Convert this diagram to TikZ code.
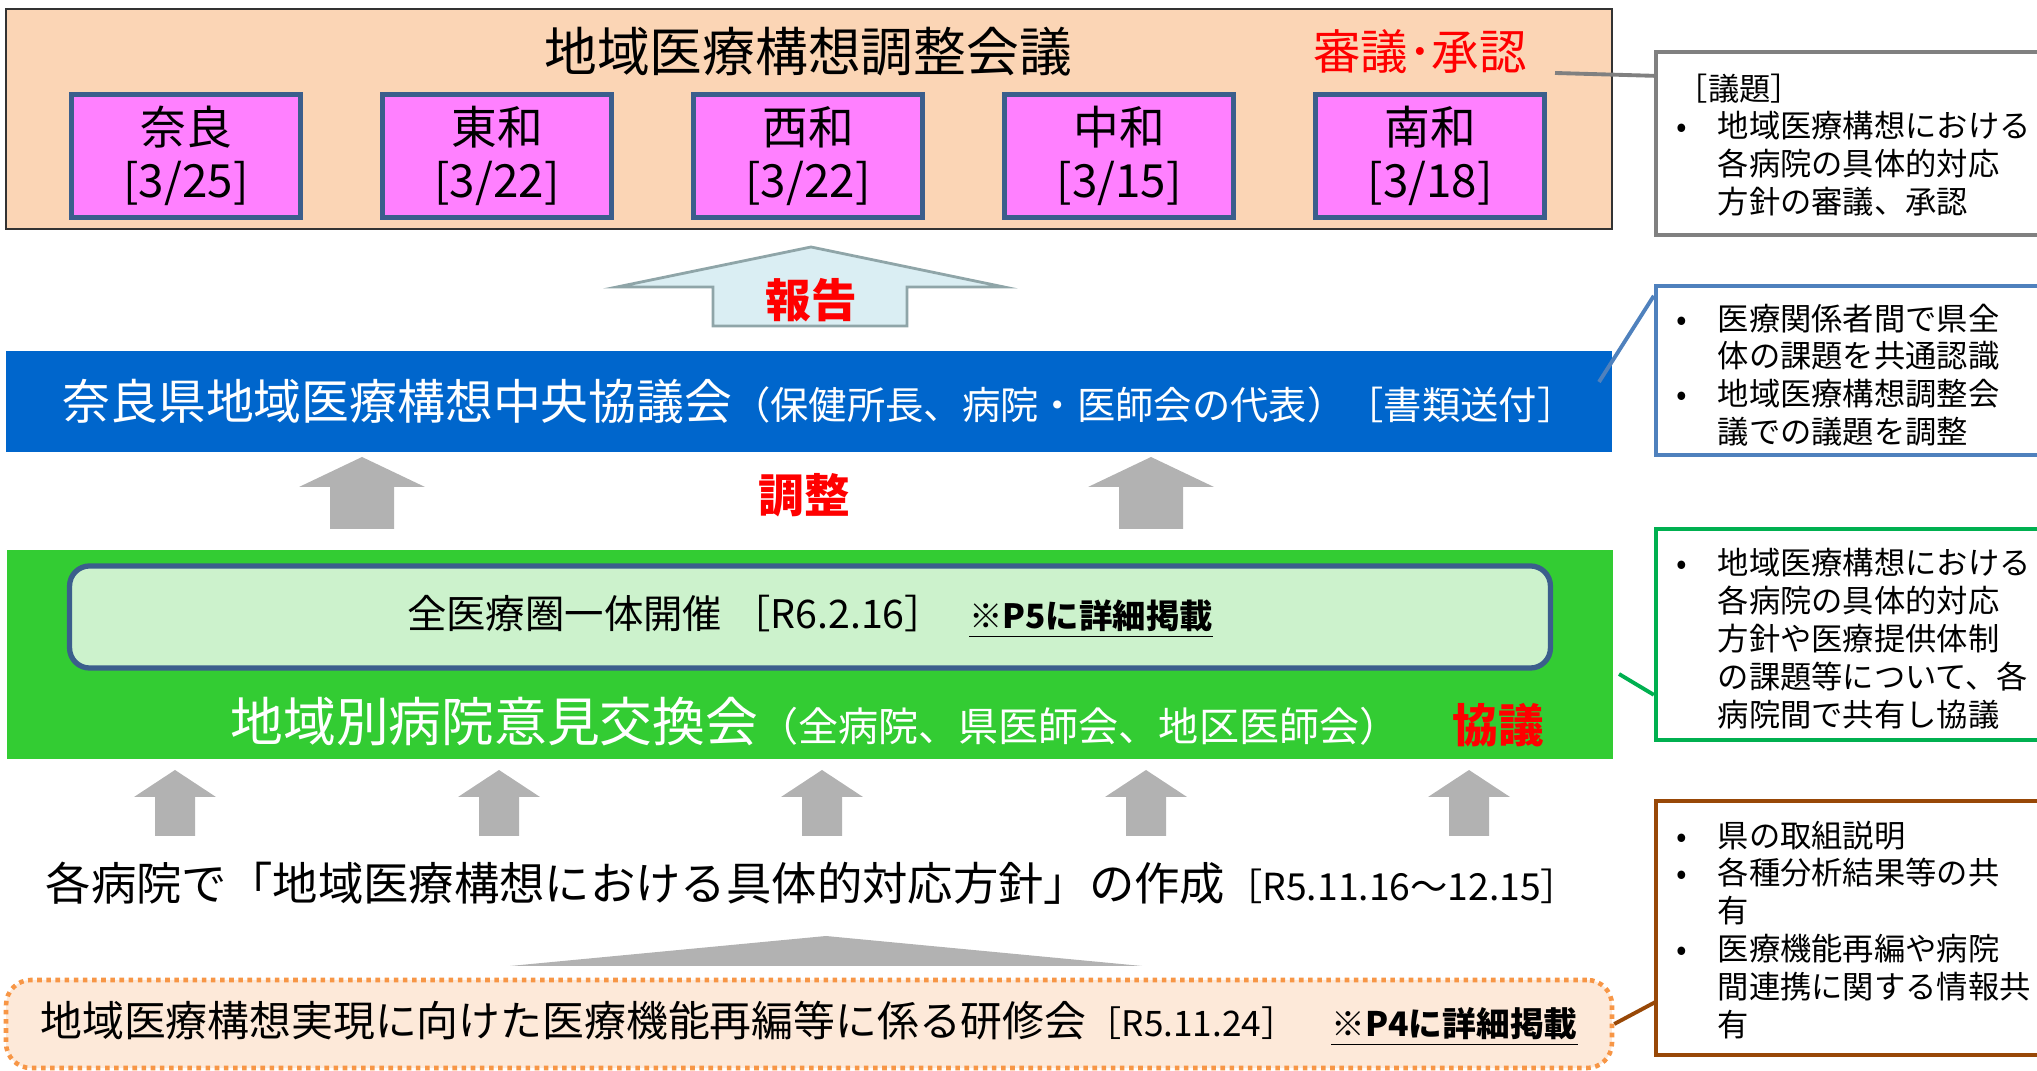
\documentclass[tikz,border=0pt]{standalone}
\usepackage{fontspec}
\setmainfont{Noto Sans CJK JP}
\usepackage{tikz}
\usetikzlibrary{shapes,calc,positioning}

\definecolor{peach}{HTML}{FBD5B5}
\definecolor{pinkfill}{HTML}{FF80FF}
\definecolor{frameblue}{HTML}{3B5E8C}
\definecolor{barblue}{HTML}{0066CC}
\definecolor{areagreen}{HTML}{33CC33}
\definecolor{palegreen}{HTML}{CCF2CC}
\definecolor{arrowgray}{HTML}{B2B2B2}
\definecolor{reportfill}{HTML}{DAEEF3}
\definecolor{reportline}{HTML}{8FA5A8}
\definecolor{notegray}{HTML}{808080}
\definecolor{noteblue}{HTML}{4F81BD}
\definecolor{notegreen}{HTML}{00B050}
\definecolor{notebrown}{HTML}{984807}
\definecolor{trainfill}{HTML}{FDE9D9}
\definecolor{trainline}{HTML}{F79646}

\newcommand{\notebullet}{\makebox[0.41cm][l]{•}}
\newcommand{\noteindent}{\hspace*{0.41cm}}

\tikzset{fontscale/.style = {font=\fontsize{#1}{#1}\selectfont}}
\tikzstyle{council}=[rectangle, draw=black!80, thin, fill=peach, minimum width=16.05cm, minimum height=2.2cm]
\tikzstyle{cpink}=[rectangle, draw=frameblue, line width=1.5pt, fill=pinkfill, minimum width=2.29cm, minimum height=1.13cm, align=center, font=\fontsize{13}{15.1}\selectfont]
\tikzstyle{cbar}=[rectangle, inner sep=0pt, minimum width=16.05cm]
\tikzstyle{cnote}=[rectangle, fill=white, line width=1.2pt, minimum width=3.94cm]
\tikzstyle{notetext}=[anchor=north west, inner sep=0pt, align=left, font=\fontsize{8.9}{10.75}\selectfont]
\tikzstyle{redlabel}=[text=red, font=\bfseries\fontsize{13}{15}\selectfont]

\begin{document}
\begin{tikzpicture}[x=0.01cm, y=-0.01cm, link/.style={line width=1.1pt}, blockarrow/.style={fill=arrowgray}]
\useasboundingbox (0,0) rectangle (2037,1071);

% council and the five areas
\node[council] (council) at (809,119) {};
\node[fontscale=15] (title) at (808,52) {地域医療構想調整会議};
\node[redlabel, fontscale=13.5] (approve) at (1420,52) {審議･承認};

\node[cpink] (nara) at (186,156) {奈良\\\relax[3/25]};
\node[cpink] (towa) at (497,156) {東和\\\relax[3/22]};
\node[cpink] (seiwa) at (808,156) {西和\\\relax[3/22]};
\node[cpink] (chuwa) at (1119,156) {中和\\\relax[3/15]};
\node[cpink] (nanwa) at (1430,156) {南和\\\relax[3/18]};

% report arrow
\filldraw[fill=reportfill, draw=reportline, line width=0.8pt] (811,247) -- (1004,287) -- (907,287) -- (907,326) -- (713,326) -- (713,287) -- (617,287) -- cycle;
\node[redlabel] (report) at (811,300) {報告};

% central council bar
\node[cbar, fill=barblue, minimum height=1.01cm, text=white] (central) at (809,401.5) {\hspace*{0.2cm}{\fontsize{13.6}{16}\selectfont 奈良県地域医療構想中央協議会}{\fontsize{10.9}{12}\selectfont （保健所長、病院・医師会の代表）［書類送付］}};

\fill[blockarrow] (362,457) -- ++(63,30) -- ++(-31,0) -- ++(0,42) -- ++(-64,0) -- ++(0,-42) -- ++(-31,0) -- cycle;
\fill[blockarrow] (1151,457) -- ++(63,30) -- ++(-31,0) -- ++(0,42) -- ++(-64,0) -- ++(0,-42) -- ++(-31,0) -- cycle;
\node[redlabel] (adjust) at (804,495) {調整};

% regional exchange meetings
\node[cbar, fill=areagreen, minimum height=2.09cm] (area) at (810,654.5) {};
\node[rectangle, rounded corners=0.2cm, draw=frameblue, line width=1.5pt, fill=palegreen, minimum width=14.8cm, minimum height=1.02cm, fontscale=11.2] (plenary) at (810,617) {全医療圏一体開催 ［R6.2.16］\hspace{0.25cm}{\bfseries\fontsize{9.5}{11}\selectfont\underline{※P5に詳細掲載}}};
\node[text=white] (exchange) at (815,722) {{\fontsize{15}{18}\selectfont 地域別病院意見交換会}{\fontsize{11.4}{13}\selectfont （全病院、県医師会、地区医師会）}};
\node[redlabel] (discuss) at (1498,725) {協議};

\fill[blockarrow] (175,770) -- ++(41,27) -- ++(-21,0) -- ++(0,39) -- ++(-40,0) -- ++(0,-39) -- ++(-21,0) -- cycle;
\fill[blockarrow] (499,770) -- ++(41,27) -- ++(-21,0) -- ++(0,39) -- ++(-40,0) -- ++(0,-39) -- ++(-21,0) -- cycle;
\fill[blockarrow] (822,770) -- ++(41,27) -- ++(-21,0) -- ++(0,39) -- ++(-40,0) -- ++(0,-39) -- ++(-21,0) -- cycle;
\fill[blockarrow] (1146,770) -- ++(41,27) -- ++(-21,0) -- ++(0,39) -- ++(-40,0) -- ++(0,-39) -- ++(-21,0) -- cycle;
\fill[blockarrow] (1469,770) -- ++(41,27) -- ++(-21,0) -- ++(0,39) -- ++(-40,0) -- ++(0,-39) -- ++(-21,0) -- cycle;

% hospital plans and training
\node (making) at (812,883) {{\fontsize{12.9}{15}\selectfont 各病院で「地域医療構想における具体的対応方針」の作成}{\fontsize{10.6}{12}\selectfont ［R5.11.16～12.15］}};
\fill[blockarrow] (826,936) -- (1142,966) -- (510,966) -- cycle;

\node[rectangle, rounded corners=0.25cm, draw=trainline, line width=1.3pt, dash pattern=on 1.3pt off 1.3pt, fill=trainfill, minimum width=16.05cm, minimum height=0.88cm] (training) at (809,1024) {{\fontsize{11.9}{14}\selectfont 地域医療構想実現に向けた医療機能再編等に係る研修会}{\fontsize{10}{12}\selectfont ［R5.11.24］}\hspace{0.35cm}{\bfseries\fontsize{9.6}{12}\selectfont\underline{※P4に詳細掲載}}};

% notes on the right
\node[cnote, draw=notegray, minimum height=1.83cm] (agenda) at (1853,143.5) {};
\node[notetext] (agendatext) at (1676,73) {［議題］\\\notebullet 地域医療構想における\\\noteindent 各病院の具体的対応\\\noteindent 方針の審議、承認};

\node[cnote, draw=noteblue, minimum height=1.69cm] (centralnote) at (1853,370.5) {};
\node[notetext] (centraltext) at (1676,303) {\notebullet 医療関係者間で県全\\\noteindent 体の課題を共通認識\\\notebullet 地域医療構想調整会\\\noteindent 議での議題を調整};

\node[cnote, draw=notegreen, minimum height=2.11cm] (exchangenote) at (1853,634.5) {};
\node[notetext] (exchangetext) at (1676,548) {\notebullet 地域医療構想における\\\noteindent 各病院の具体的対応\\\noteindent 方針や医療提供体制\\\noteindent の課題等について、各\\\noteindent 病院間で共有し協議};

\node[cnote, draw=notebrown, minimum height=2.54cm] (trainingnote) at (1853,928) {};
\node[notetext] (trainingtext) at (1676,820) {\notebullet 県の取組説明\\\notebullet 各種分析結果等の共\\\noteindent 有\\\notebullet 医療機能再編や病院\\\noteindent 間連携に関する情報共\\\noteindent 有};

% note links
\coordinate (approveTail) at (1555,73);
\coordinate (centralTail) at (1599,382);
\coordinate (exchangeTail) at (1619,674);
\draw[link, notegray] (approveTail) -- ($(agenda.north west)+(0,26)$);
\draw[link, noteblue] (centralTail) -- ($(centralnote.north west)+(0,12)$);
\draw[link, notegreen] (exchangeTail) -- ($(exchangenote.north west)+(0,168)$);
\draw[link, notebrown] (training.east) -- ($(trainingnote.north west)+(2,203)$);
\end{tikzpicture}
\end{document}
